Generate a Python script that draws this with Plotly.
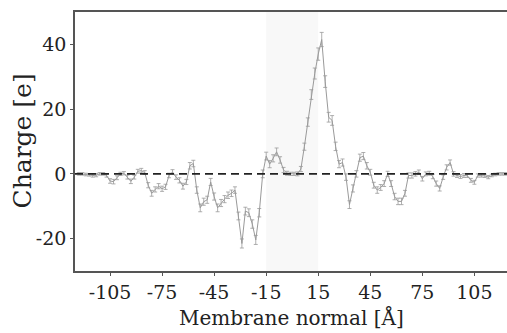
import plotly.graph_objects as go

# Membrane normal positions [Å]
positions = [-123, -121, -119, -117, -115, -113, -111, -109, -107, -105,
             -103, -101, -99, -97, -95, -93, -91, -89, -87, -85,
             -83, -81, -79, -77, -75, -73, -71, -69, -67, -65,
             -63, -61, -59, -57, -55, -53, -51, -49, -47, -45,
             -43, -41, -39, -37, -35, -33, -31, -29, -27, -25,
             -23, -21, -19, -17, -15, -13, -11, -9, -7, -5,
             -3, -1, 1, 3, 5, 7, 9, 11, 13, 15,
             17, 19, 21, 23, 25, 27, 29, 31, 33, 35,
             37, 39, 41, 43, 45, 47, 49, 51, 53, 55,
             57, 59, 61, 63, 65, 67, 69, 71, 73, 75,
             77, 79, 81, 83, 85, 87, 89, 91, 93, 95,
             97, 99, 101, 103, 105, 107, 109, 111, 113, 115,
             117, 119, 121, 123]

# Charge [e]
charge = [0.0, 0.0, -0.2, -0.3, -0.5, -0.4, 0.0, 0.0, -0.5, -2.2,
          -2.4, -1.2, 0.0, 0.2, -1.0, -2.3, -1.0, 0.8, 1.0, 0.4,
          -3.5, -6.0, -4.8, -3.8, -4.6, -4.0, -0.5, 0.6, -1.0, -2.0,
          -3.8, -2.5, 2.5, 3.2, -5.0, -10.5, -8.6, -8.0, -2.5, -7.0,
          -10.5, -9.0, -7.8, -6.6, -6.0, -5.0, -13.0, -21.5, -11.5, -12.0,
          -15.5, -20.4, -12.0, 0.0, 5.5, 3.0, 4.8, 6.8, 4.3, 1.2,
          0.2, 0.0, 0.0, 0.0, 1.5, 8.4, 16.0, 24.5, 31.0, 37.0,
          41.5, 28.5, 17.5, 16.5, 8.5, 3.0, 3.5, -1.0, -9.5, -4.5,
          0.0, 5.0, 5.5, 2.5, 0.5, -3.5, -5.0, -4.2, -3.0, 0.0,
          -3.0, -7.0, -8.5, -8.5, -6.0, -0.5, -0.5, 0.0, 0.5, -1.5,
          0.0, 0.2, -0.8, -3.0, -4.5, -1.0, 2.0, 3.5, 0.0, -0.5,
          -0.8, -0.5, -0.6, -2.0, -2.6, -0.5, -0.5, -0.6, -1.0, -0.5,
          -0.2, 0.0, 0.0, 0.0]

# Error bar half-widths [e]
errors = [0.4, 0.4, 0.4, 0.4, 0.5, 0.5, 0.4, 0.4, 0.5, 0.7,
          0.7, 0.6, 0.5, 0.5, 0.6, 0.7, 0.6, 0.6, 0.7, 0.6,
          0.8, 0.9, 0.8, 0.8, 0.8, 0.8, 0.7, 0.7, 0.7, 0.8,
          0.9, 0.8, 1.0, 1.0, 1.0, 1.2, 1.1, 1.1, 1.1, 1.1,
          1.2, 1.1, 1.1, 1.0, 1.0, 1.0, 1.2, 1.4, 1.2, 1.2,
          1.3, 1.4, 1.3, 1.2, 1.2, 1.1, 1.1, 1.2, 1.0, 0.8,
          0.6, 0.5, 0.5, 0.6, 0.8, 1.1, 1.3, 1.5, 1.7, 1.9,
          2.2, 1.8, 1.5, 1.5, 1.3, 1.1, 1.1, 1.0, 1.2, 1.1,
          1.0, 1.1, 1.1, 1.0, 0.9, 0.9, 1.0, 0.9, 0.9, 0.8,
          0.9, 1.0, 1.0, 1.0, 0.9, 0.8, 0.8, 0.7, 0.7, 0.7,
          0.6, 0.6, 0.7, 0.8, 0.8, 0.7, 0.8, 0.8, 0.7, 0.6,
          0.6, 0.6, 0.5, 0.6, 0.6, 0.5, 0.5, 0.5, 0.5, 0.4,
          0.4, 0.4, 0.4, 0.4]

x_tick_vals = [-105, -75, -45, -15, 15, 45, 75, 105]
x_tick_text = ["-105", "-75", "-45", "-15", "15", "45", "75", "105"]
y_tick_vals = [-20, 0, 20, 40]
y_tick_text = ["-20", "0", "20", "40"]
x_title = "Membrane normal [Å]"
y_title = "Charge [e]"

FONT = "DejaVu Serif"
TEXT = "#222222"
LINE_GRAY = "#9a9a9a"
FRAME = "#555555"

fig = go.Figure()

fig.add_trace(go.Scatter(
    x=positions, y=charge,
    mode="lines",
    line=dict(color=LINE_GRAY, width=1),
    error_y=dict(type="data", array=errors, visible=True,
                 color=LINE_GRAY, thickness=0.8, width=2),
    showlegend=False,
    hoverinfo="skip",
))

# very light shaded band around the membrane center
fig.add_shape(type="rect", xref="x", yref="paper", x0=-15, x1=15, y0=0, y1=1,
              fillcolor="#f8f8f8", line=dict(width=0), layer="below")

# dashed zero line
fig.add_shape(type="line", xref="paper", yref="y", x0=0, x1=1, y0=0, y1=0,
              line=dict(color="#222222", width=1.8, dash="8px,5px"), layer="above")

# axis titles as annotations for exact placement
fig.add_annotation(text=x_title, xref="paper", yref="paper", x=0.5, y=0,
                   xanchor="center", yanchor="bottom", yshift=-61,
                   showarrow=False, font=dict(family=FONT, size=20, color=TEXT))
fig.add_annotation(text=y_title, xref="paper", yref="paper", x=0, y=0.5,
                   xanchor="center", yanchor="middle", xshift=-53, textangle=-90,
                   showarrow=False, font=dict(family=FONT, size=25, color=TEXT))

fig.update_layout(
    width=507, height=333,
    margin=dict(l=75, r=0, t=12, b=62, pad=0),
    paper_bgcolor="white",
    plot_bgcolor="white",
    font=dict(family=FONT, size=19, color=TEXT),
    xaxis=dict(
        range=[-125.2, 123.8],
        automargin=False,
        tickvals=x_tick_vals, ticktext=x_tick_text,
        showgrid=False, zeroline=False,
        showline=True, mirror=True, linecolor=FRAME, linewidth=1.5,
        ticks="outside", ticklen=3, tickcolor=FRAME, tickwidth=1,
        tickfont=dict(family=FONT, size=19, color=TEXT),
    ),
    yaxis=dict(
        range=[-30, 50],
        automargin=False,
        tickvals=y_tick_vals, ticktext=y_tick_text,
        showgrid=False, zeroline=False,
        showline=True, mirror=False, linecolor=FRAME, linewidth=1.5,
        ticks="outside", ticklen=3, tickcolor=FRAME, tickwidth=1,
        tickfont=dict(family=FONT, size=19, color=TEXT),
    ),
)

fig.write_html("out.html")
